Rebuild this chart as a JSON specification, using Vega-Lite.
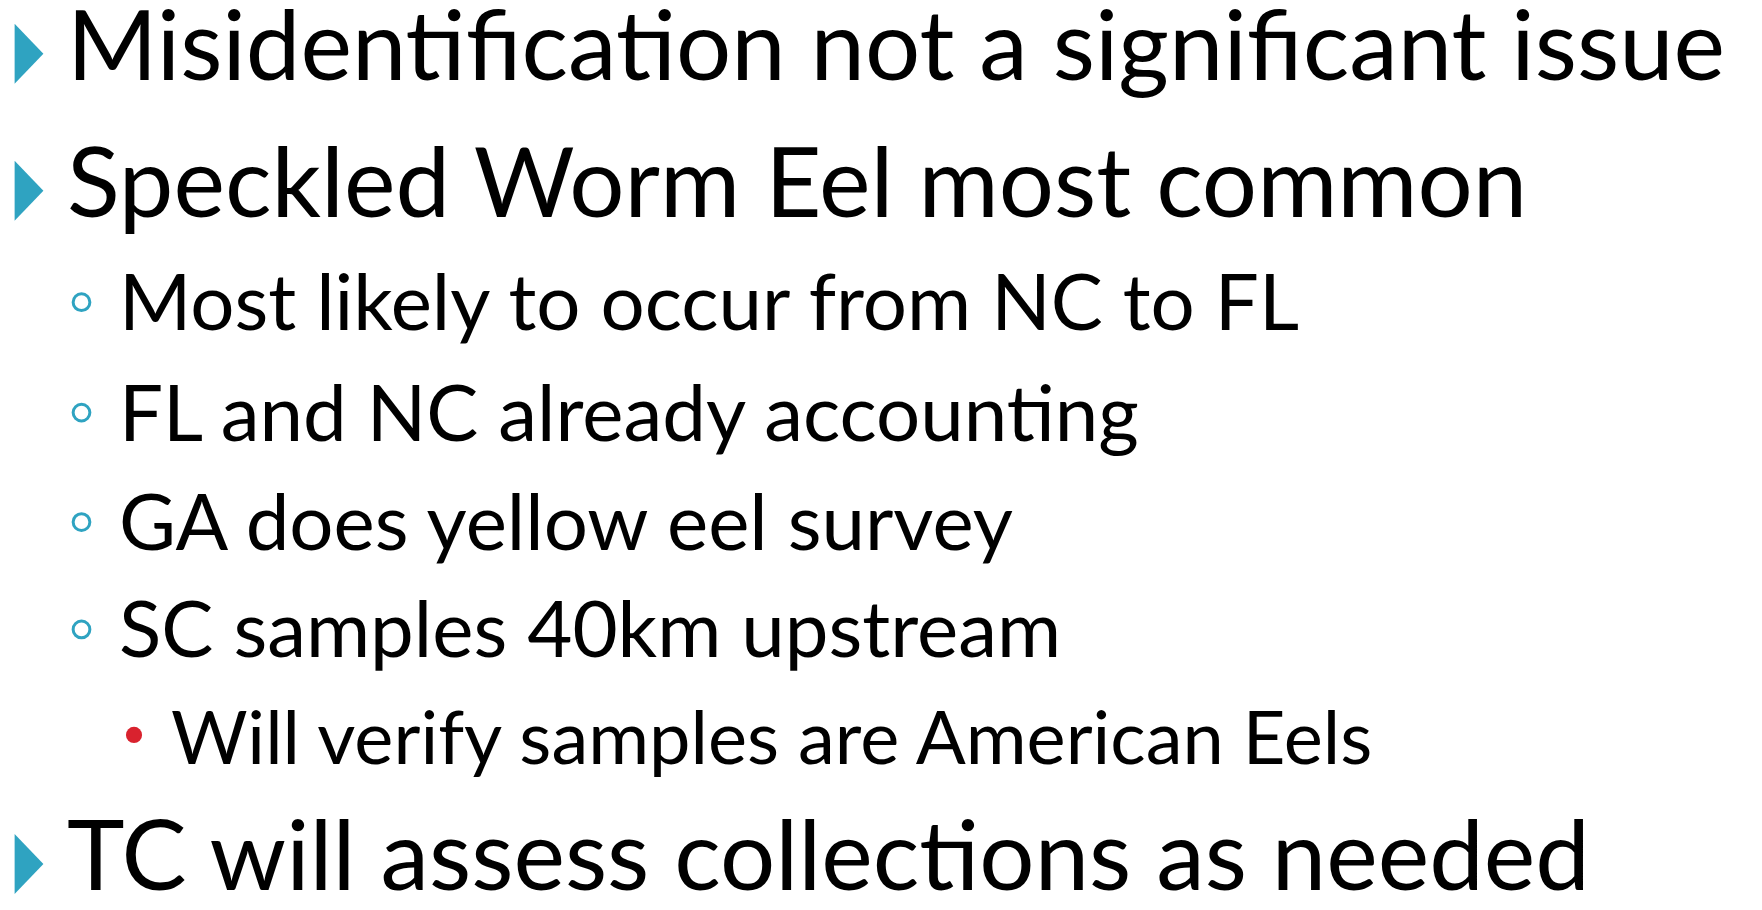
{
  "$schema": "https://vega.github.io/schema/vega-lite/v6.json",
  "width": 1762,
  "height": 910,
  "autosize": {"type": "fit", "contains": "padding"},
  "padding": 0,
  "background": "white",
  "config": {"view": {"stroke": null}},
  "data": {
    "values": [
      {"line": 1, "level": 1, "text": "Misidentification not a significant issue", "y": 81},
      {"line": 2, "level": 1, "text": "Speckled Worm Eel most common", "y": 220},
      {"line": 3, "level": 2, "text": "Most likely to occur from NC to FL", "y": 335},
      {"line": 4, "level": 2, "text": "FL and NC already accounting", "y": 447},
      {"line": 5, "level": 2, "text": "GA does yellow eel survey", "y": 558},
      {"line": 6, "level": 2, "text": "SC samples 40km upstream", "y": 667},
      {"line": 7, "level": 3, "text": "Will verify samples are American Eels", "y": 775},
      {"line": 8, "level": 1, "text": "TC will assess collections as needed", "y": 903}
    ]
  },
  "resolve": {"scale": {"x": "independent"}},
  "layer": [
    {
      "transform": [{"filter": "datum.level == 1"}],
      "mark": {"type": "text", "align": "left", "baseline": "alphabetic", "font": "Lato", "fontSize": 97.5, "color": "black"},
      "encoding": {
        "x": {"field": "level", "type": "quantitative", "scale": {"domain": [1, 3], "range": [67, 171], "nice": false, "zero": false}, "axis": null},
        "y": {"field": "y", "type": "quantitative", "scale": {"domain": [0, 910], "reverse": true, "nice": false, "zero": false}, "axis": null},
        "text": {"field": "text"}
      }
    },
    {
      "transform": [{"filter": "datum.level == 2"}],
      "mark": {"type": "text", "align": "left", "baseline": "alphabetic", "font": "Lato", "fontSize": 78, "color": "black"},
      "encoding": {
        "x": {"field": "level", "type": "quantitative", "scale": {"domain": [1, 3], "range": [67, 171], "nice": false, "zero": false}, "axis": null},
        "y": {"field": "y", "type": "quantitative", "scale": {"domain": [0, 910], "reverse": true, "nice": false, "zero": false}, "axis": null},
        "text": {"field": "text"}
      }
    },
    {
      "transform": [{"filter": "datum.level == 3"}],
      "mark": {"type": "text", "align": "left", "baseline": "alphabetic", "font": "Lato", "fontSize": 74, "color": "black"},
      "encoding": {
        "x": {"field": "level", "type": "quantitative", "scale": {"domain": [1, 3], "range": [67, 171], "nice": false, "zero": false}, "axis": null},
        "y": {"field": "y", "type": "quantitative", "scale": {"domain": [0, 910], "reverse": true, "nice": false, "zero": false}, "axis": null},
        "text": {"field": "text"}
      }
    },
    {
      "transform": [{"filter": "datum.level == 1"}],
      "mark": {"type": "point", "shape": "M-0.48,-1L0.48,0L-0.48,1Z", "filled": true, "fill": "#2FA3C1", "strokeWidth": 0, "size": 3600, "opacity": 1, "yOffset": -26},
      "encoding": {
        "x": {"field": "level", "type": "quantitative", "scale": {"domain": [1, 3], "range": [29, 134], "nice": false, "zero": false}, "axis": null},
        "y": {"field": "y", "type": "quantitative", "scale": {"domain": [0, 910], "reverse": true, "nice": false, "zero": false}, "axis": null}
      }
    },
    {
      "transform": [{"filter": "datum.level == 2"}],
      "mark": {"type": "point", "shape": "circle", "filled": false, "stroke": "#2FA3C1", "strokeWidth": 3, "size": 280, "opacity": 1, "yOffset": -28},
      "encoding": {
        "x": {"field": "level", "type": "quantitative", "scale": {"domain": [1, 3], "range": [29, 134], "nice": false, "zero": false}, "axis": null},
        "y": {"field": "y", "type": "quantitative", "scale": {"domain": [0, 910], "reverse": true, "nice": false, "zero": false}, "axis": null}
      }
    },
    {
      "transform": [{"filter": "datum.level == 3"}],
      "mark": {"type": "point", "shape": "circle", "filled": true, "fill": "#D9222E", "strokeWidth": 0, "size": 260, "opacity": 1, "yOffset": -29},
      "encoding": {
        "x": {"field": "level", "type": "quantitative", "scale": {"domain": [1, 3], "range": [29, 134], "nice": false, "zero": false}, "axis": null},
        "y": {"field": "y", "type": "quantitative", "scale": {"domain": [0, 910], "reverse": true, "nice": false, "zero": false}, "axis": null}
      }
    }
  ]
}
